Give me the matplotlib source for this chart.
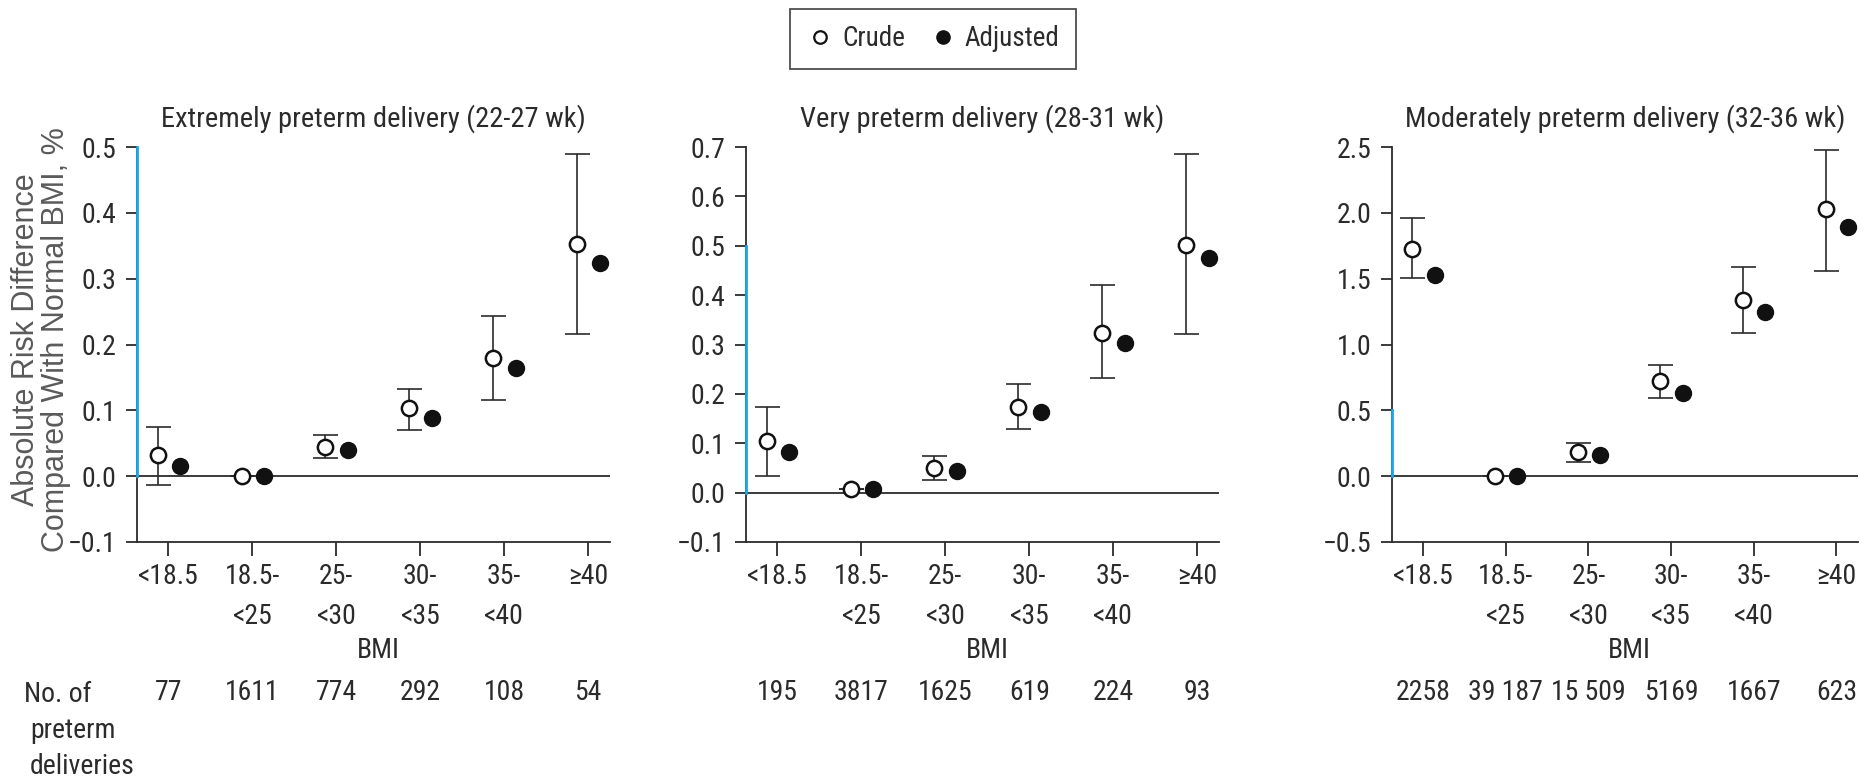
import matplotlib

matplotlib.use("Agg")
import matplotlib.pyplot as plt
import matplotlib.transforms as mtransforms
from matplotlib.lines import Line2D

plt.rcParams["font.family"] = ["Roboto Condensed", "DejaVu Sans"]

# ---- data ----
bmi_labels = ["<18.5", "18.5-\n<25", "25-\n<30", "30-\n<35", "35-\n<40", "\u226540"]
titles = [
    "Extremely preterm delivery (22-27 wk)",
    "Very preterm delivery (28-31 wk)",
    "Moderately preterm delivery (32-36 wk)",
]

extreme_crude = [0.032, 0.0, 0.045, 0.103, 0.180, 0.353]
extreme_low = [-0.014, 0.0, 0.028, 0.070, 0.115, 0.216]
extreme_high = [0.074, 0.0, 0.062, 0.133, 0.244, 0.489]
extreme_adj = [0.016, 0.0, 0.040, 0.089, 0.165, 0.324]
extreme_n = ["77", "1611", "774", "292", "108", "54"]

very_crude = [0.104, 0.007, 0.049, 0.174, 0.324, 0.502]
very_low = [0.034, 0.007, 0.026, 0.129, 0.233, 0.321]
very_high = [0.174, 0.007, 0.074, 0.220, 0.421, 0.685]
very_adj = [0.083, 0.007, 0.044, 0.164, 0.303, 0.475]
very_n = ["195", "3817", "1625", "619", "224", "93"]

moderate_crude = [1.728, 0.0, 0.180, 0.721, 1.336, 2.027]
moderate_low = [1.506, 0.0, 0.104, 0.590, 1.091, 1.556]
moderate_high = [1.961, 0.0, 0.253, 0.848, 1.589, 2.480]
moderate_adj = [1.531, 0.0, 0.159, 0.635, 1.248, 1.890]
moderate_n = ["2258", "39 187", "15 509", "5169", "1667", "623"]

panels = [
    (extreme_crude, extreme_low, extreme_high, extreme_adj, extreme_n, (-0.1, 0.5), 0.1),
    (very_crude, very_low, very_high, very_adj, very_n, (-0.1, 0.7), 0.1),
    (moderate_crude, moderate_low, moderate_high, moderate_adj, moderate_n, (-0.5, 2.5), 0.5),
]

# ---- layout ----
W, H = 1868, 779
fig = plt.figure(figsize=(W / 100, H / 100), dpi=100)
ink = "#2b2b2b"
blue = "#1aa7e8"
fs = 20
lefts = [137, 746, 1392]
widths = [473, 473, 466]
bottom = 1 - 542 / H
height = (542 - 147) / H

for i, (crude, low, high, adj, counts, ylim, step) in enumerate(panels):
    ax = fig.add_axes([lefts[i] / W, bottom, widths[i] / W, height])
    x = list(range(len(bmi_labels)))
    xc = [v - 0.13 for v in x]
    xa = [v + 0.14 for v in x]
    yerr = [[c - l for c, l in zip(crude, low)], [h - c for c, h in zip(crude, high)]]

    ax.axhline(0, color=ink, linewidth=1.3, zorder=1)
    ax.errorbar(xc, crude, yerr=yerr, fmt="none", ecolor=ink, elinewidth=1.2, capsize=9, capthick=1.2, zorder=2)
    ax.plot(xc, crude, "o", ms=11, mfc="white", mec="#111111", mew=1.8, zorder=3, clip_on=False)
    ax.plot(xa, adj, "o", ms=11.5, mfc="#111111", mec="#111111", zorder=3, clip_on=False)

    ax.set_xlim(-0.375, 5.26)
    ax.set_ylim(*ylim)
    n_ticks = int(round((ylim[1] - ylim[0]) / step)) + 1
    yticks = [ylim[0] + k * step for k in range(n_ticks)]
    ax.set_yticks(yticks)
    ax.set_yticklabels([f"{t:.1f}".replace("-", "\u2212") for t in yticks], fontsize=fs, color=ink)
    ax.set_xticks(x)
    ax.set_xticklabels(bmi_labels, fontsize=fs, color=ink, linespacing=1.65)

    for side in ("top", "right"):
        ax.spines[side].set_visible(False)
    for side in ("left", "bottom"):
        ax.spines[side].set_color(ink)
        ax.spines[side].set_linewidth(1.3)
    ax.tick_params(axis="y", length=8, width=1.3, color=ink, pad=7)
    ax.tick_params(axis="x", length=10, width=1.3, color=ink, pad=5)

    # cyan stretch of the y axis between 0 and 0.5
    ax.plot([0, 0], [0, 0.5], transform=ax.get_yaxis_transform(), color=blue,
            linewidth=2.0, clip_on=False, zorder=4)
    for t, tick in zip(yticks, ax.yaxis.get_major_ticks()):
        if -1e-9 <= t <= 0.5 + 1e-9:
            tick.tick1line.set_color(blue)

    ax.set_title(titles[i], fontsize=20.5, color=ink, pad=15)

    trans = mtransforms.blended_transform_factory(ax.transData, fig.transFigure)
    ax.text(2.5, 1 - 650 / H, "BMI", transform=trans, ha="center", va="center", fontsize=fs, color=ink)
    for xi, c in zip(x, counts):
        ax.text(xi, 1 - 693 / H, c, transform=trans, ha="center", va="center", fontsize=fs, color=ink)

fig.text(24 / W, 1 - 694 / H, "No. of", ha="left", va="center", fontsize=fs, color=ink)
fig.text(30 / W, 1 - 731 / H, "preterm", ha="left", va="center", fontsize=fs, color=ink)
fig.text(30 / W, 1 - 767 / H, "deliveries", ha="left", va="center", fontsize=fs, color=ink)

fig.text(41 / W, 1 - 340 / H, "Absolute Risk Difference\nCompared With Normal BMI, %",
         rotation=90, ha="center", va="center", fontsize=22, color="#5a5a5a",
         family=["Liberation Sans", "DejaVu Sans"], linespacing=1.0)

handles = [
    Line2D([], [], marker="o", linestyle="none", ms=9, mfc="white", mec="#111111", mew=1.6),
    Line2D([], [], marker="o", linestyle="none", ms=9.5, mfc="#111111", mec="#111111"),
]
leg = fig.legend(handles, ["Crude", "Adjusted"], loc="center", bbox_to_anchor=(933 / W, 1 - 39 / H),
                 ncol=2, fontsize=19.5, frameon=True, fancybox=False, handletextpad=0.3,
                 columnspacing=0.9, handlelength=1.0, borderpad=0.6)
leg.get_frame().set_edgecolor("#222222")
leg.get_frame().set_linewidth(1.3)
for text in leg.get_texts():
    text.set_color(ink)

fig.savefig("out.png", dpi=100)
plt.close(fig)
